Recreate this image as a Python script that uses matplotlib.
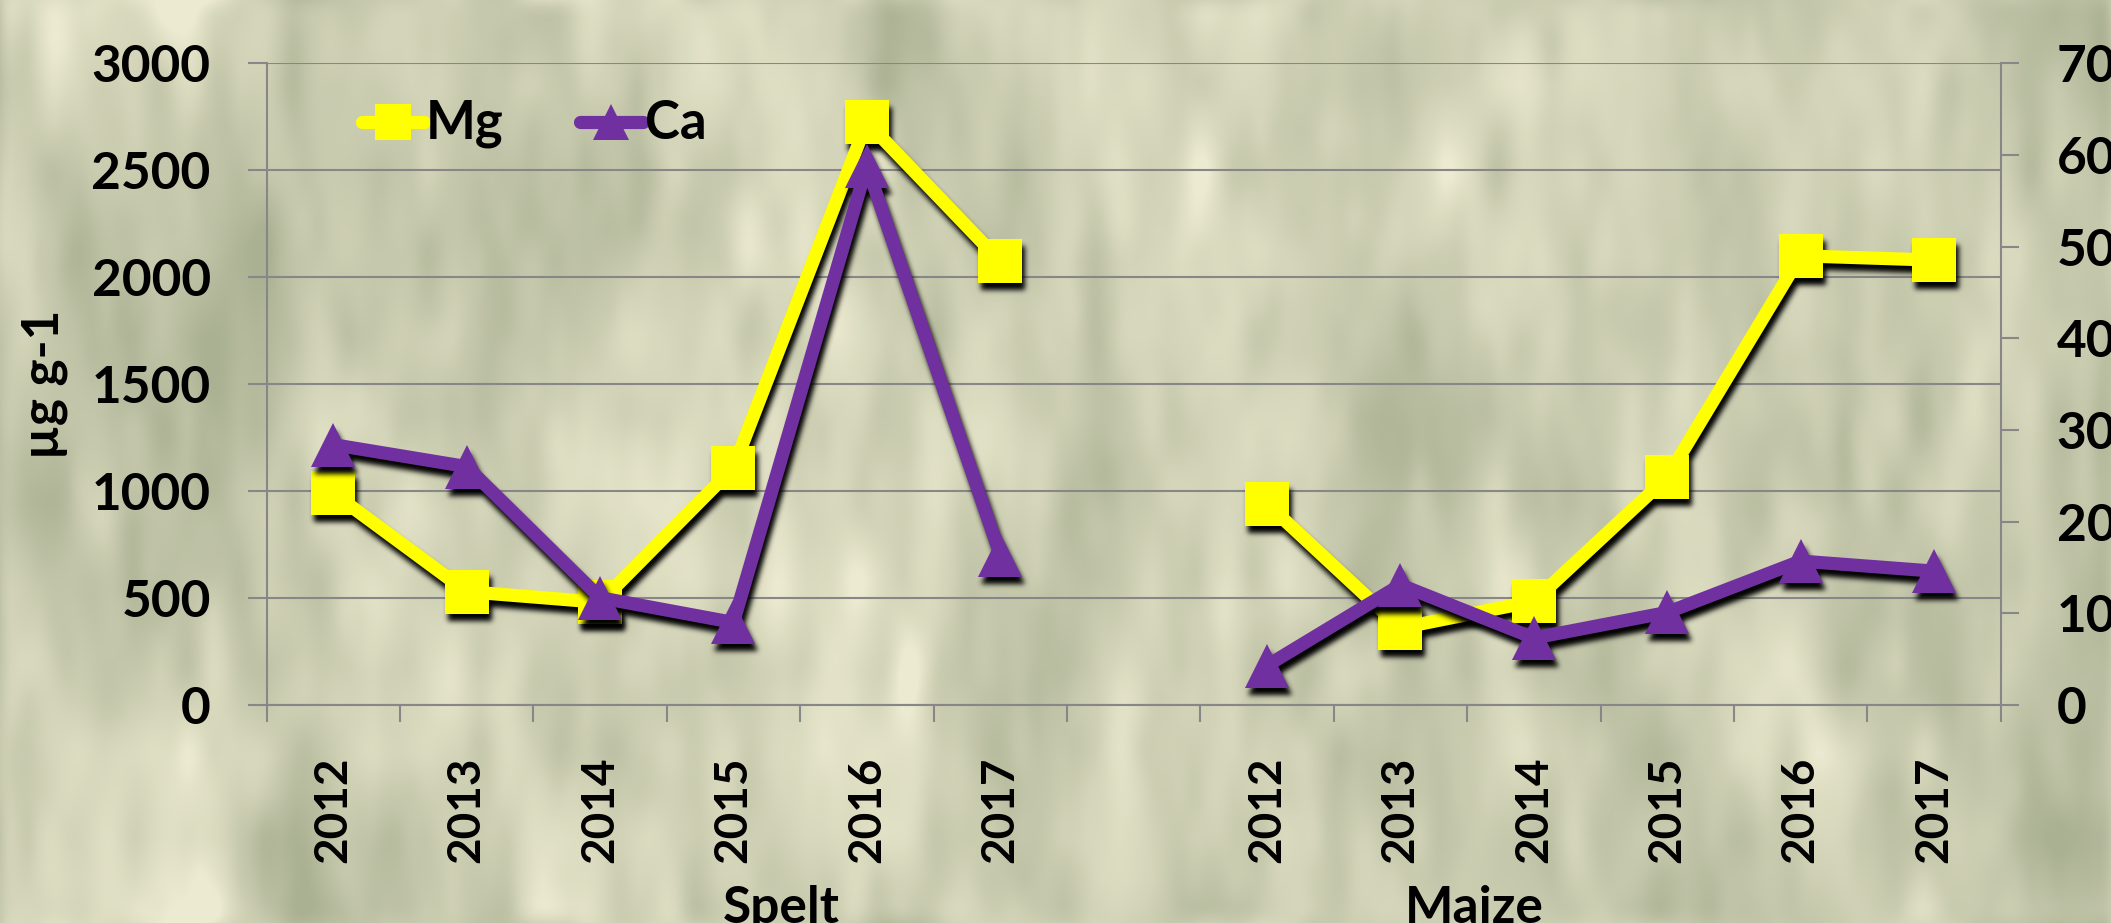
import numpy as np
import matplotlib
matplotlib.use("Agg")
import matplotlib.pyplot as plt
from matplotlib.lines import Line2D

# ---------------- data ----------------
crops = ["Spelt", "Maize"]
years = ["2012", "2013", "2014", "2015", "2016", "2017"]
mg_spelt = [990, 530, 480, 1110, 2725, 2075]
mg_maize = [940, 360, 485, 1065, 2100, 2080]
ca_spelt = [28.4, 26.0, 11.7, 9.0, 58.8, 16.4]
ca_maize = [4.3, 13.1, 7.3, 10.1, 15.7, 14.6]
left_ticks = [0, 500, 1000, 1500, 2000, 2500, 3000]
right_ticks = [0, 10, 20, 30, 40, 50, 60, 70]
y_label = "µg g-1"

# ---------------- style ----------------
W, H, DPI = 2111, 923, 100
FONT = "Lato"
FS = 37
GRID = "#878787"
MG_COLOR = "#FFFF00"
CA_COLOR = "#7030A0"
LW = 9.5
MS = 32

plt.rcParams["font.family"] = [FONT, "DejaVu Sans"]
plt.rcParams["font.weight"] = "bold"

fig = plt.figure(figsize=(W / DPI, H / DPI), dpi=DPI)


def px(x, y):
    """pixel position (from top-left) -> figure fraction"""
    return x / W, 1 - y / H


# ---------------- textured background ----------------
def upsample(a, h, w):
    rows = np.linspace(0, a.shape[0] - 1, h)
    cols = np.linspace(0, a.shape[1] - 1, w)
    tmp = np.array([np.interp(cols, np.arange(a.shape[1]), r) for r in a])
    out = np.array([np.interp(rows, np.arange(a.shape[0]), c) for c in tmp.T]).T
    return out


def box_blur(a, r, axis):
    out = np.zeros_like(a)
    for s in range(-r, r + 1):
        out += np.roll(a, s, axis=axis)
    return out / (2 * r + 1)


rng = np.random.default_rng(11)
coarse = upsample(rng.normal(size=(5, 22)), H, W)
mid = upsample(rng.normal(size=(12, 80)), H, W)
fine = upsample(rng.normal(size=(22, 160)), H, W)
tex = 0.55 * coarse + 0.35 * mid + 0.15 * fine
for _ in range(2):
    tex = box_blur(box_blur(tex, 10, 0), 6, 1)
tex = (tex - tex.mean()) / tex.std()
# lighter cream towards the top-left
yy, xx = np.mgrid[0:H, 0:W]
tex += 0.6 * np.exp(-(((xx - 650) / 650) ** 2 + ((yy - 0) / 380) ** 2))
t = np.clip(0.5 + 0.17 * tex, 0, 1)[..., None]
dark = np.array([170, 176, 146]) / 255
light = np.array([236, 234, 208]) / 255
bg = dark + (light - dark) * t

bg_ax = fig.add_axes([0, 0, 1, 1], zorder=-10)
bg_ax.imshow(bg, aspect="auto", extent=(0, 1, 0, 1), interpolation="bilinear")
bg_ax.set_axis_off()


# ---------------- soft drop shadow filter ----------------
class DropShadow:
    def __init__(self, dx=3, dy=7, sigma=2.6, alpha=1.0):
        self.dx, self.dy, self.sigma, self.alpha = dx, dy, sigma, alpha

    def __call__(self, im, dpi):
        r = int(3 * self.sigma)
        pad = r + max(abs(self.dx), abs(self.dy)) + 2
        a = np.pad(im, [(pad, pad), (pad, pad), (0, 0)], "constant")
        k = np.exp(-np.arange(-r, r + 1) ** 2 / (2 * self.sigma ** 2))
        k /= k.sum()
        al = a[..., 3]
        b = np.zeros_like(al)
        for i, w in enumerate(k):
            b += w * np.roll(al, i - r, axis=0)
        c = np.zeros_like(al)
        for i, w in enumerate(k):
            c += w * np.roll(b, i - r, axis=1)
        c = np.roll(np.roll(c, self.dy, axis=0), self.dx, axis=1)
        res = np.zeros_like(a)
        res[..., 3] = np.clip(c * self.alpha, 0, 1)
        return res, -pad, -pad


# ---------------- axes ----------------
left, bottom = px(266.6, 705)
right, top = px(2000.7, 63.3)
ax = fig.add_axes([left, bottom, right - left, top - bottom])
ax.patch.set_visible(False)
ax2 = ax.twinx()
ax2.patch.set_visible(False)

labels = years + [""] + years
x = np.arange(len(labels))
mg = np.array(mg_spelt + [np.nan] + mg_maize, dtype=float)
ca = np.array(ca_spelt + [np.nan] + ca_maize, dtype=float)

ax.set_xlim(-0.5, len(labels) - 0.5)
ax.set_ylim(left_ticks[0], left_ticks[-1])
ax2.set_ylim(right_ticks[0], right_ticks[-1])

# Mg on the primary axis
sh = ax.plot(x, mg, color="black", lw=LW, marker="s", ms=MS, mew=0,
             solid_joinstyle="round", solid_capstyle="round", zorder=3,
             clip_on=False)[0]
sh.set_agg_filter(DropShadow())
ax.plot(x, mg, color=MG_COLOR, lw=LW, marker="s", ms=MS, mew=0,
        solid_joinstyle="round", solid_capstyle="round", zorder=4,
        clip_on=False)

# Ca on the secondary axis
sh2 = ax2.plot(x, ca, color="black", lw=LW, marker="^", ms=MS, mew=0,
               solid_joinstyle="round", solid_capstyle="round", zorder=3,
               clip_on=False)[0]
sh2.set_agg_filter(DropShadow())
ax2.plot(x, ca, color=CA_COLOR, lw=LW, marker="^", ms=MS, mew=0,
         solid_joinstyle="round", solid_capstyle="round", zorder=4,
         clip_on=False)

# grid, spines, ticks
ax.set_axisbelow(True)
ax.yaxis.grid(True, color=GRID, lw=1.5)
for s in ["top", "right"]:
    ax.spines[s].set_visible(False)
for s in ["left", "bottom"]:
    ax.spines[s].set_color(GRID)
    ax.spines[s].set_linewidth(1.5)
for s in ["top", "left", "bottom"]:
    ax2.spines[s].set_visible(False)
ax2.spines["right"].set_color(GRID)
ax2.spines["right"].set_linewidth(1.5)

ax.set_yticks(left_ticks)
ax.set_yticklabels([str(v) for v in left_ticks])
ax.tick_params(axis="y", direction="out", length=13.7, width=1.5, color=GRID,
               pad=26.6, labelsize=FS, labelcolor="black")
ax2.set_yticks(right_ticks)
ax2.set_yticklabels([str(v) for v in right_ticks])
ax2.tick_params(axis="y", direction="out", length=13, width=1.5, color=GRID,
                pad=27.4, labelsize=FS, labelcolor="black")

ax.set_xticks(x)
ax.set_xticklabels(labels, rotation=90, fontsize=33, fontweight="bold")
ax.set_xticks(np.arange(-0.5, len(labels), 1.0), minor=True)
ax.tick_params(axis="x", which="major", length=0, pad=37.4)
ax.tick_params(axis="x", which="minor", direction="out", length=12.2,
               width=1.5, color=GRID)

for lab in ax.get_yticklabels() + ax2.get_yticklabels():
    lab.set_fontweight("bold")

# axis title and crop names
fig.text(*px(44, 384.5), y_label, rotation=90, ha="center", va="center",
         fontsize=FS, fontweight="bold")
for name, cx in zip(crops, [781.7, 1474]):
    fig.text(*px(cx, 923), name, ha="center", va="baseline",
             fontsize=FS, fontweight="bold")

# ---------------- legend ----------------
def legend_entry(x0, x1, xc, yc, color, marker, text, tx):
    fx0, fy = px(x0, yc)
    fx1, _ = px(x1, yc)
    fig.add_artist(Line2D([fx0, fx1], [fy, fy], transform=fig.transFigure,
                          color=color, lw=LW, solid_capstyle="round"))
    fxc, _ = px(xc, yc)
    fig.add_artist(Line2D([fxc], [fy], transform=fig.transFigure,
                          color=color, marker=marker, ms=26, mew=0, lw=0))
    fig.text(*px(tx, 139), text, ha="left", va="baseline",
             fontsize=38, fontweight="bold")


legend_entry(362, 424, 393, 121.7, MG_COLOR, "s", "Mg", 426)
legend_entry(580, 643, 611, 121.7, CA_COLOR, "^", "Ca", 645)

fig.savefig("out.png", dpi=DPI)
